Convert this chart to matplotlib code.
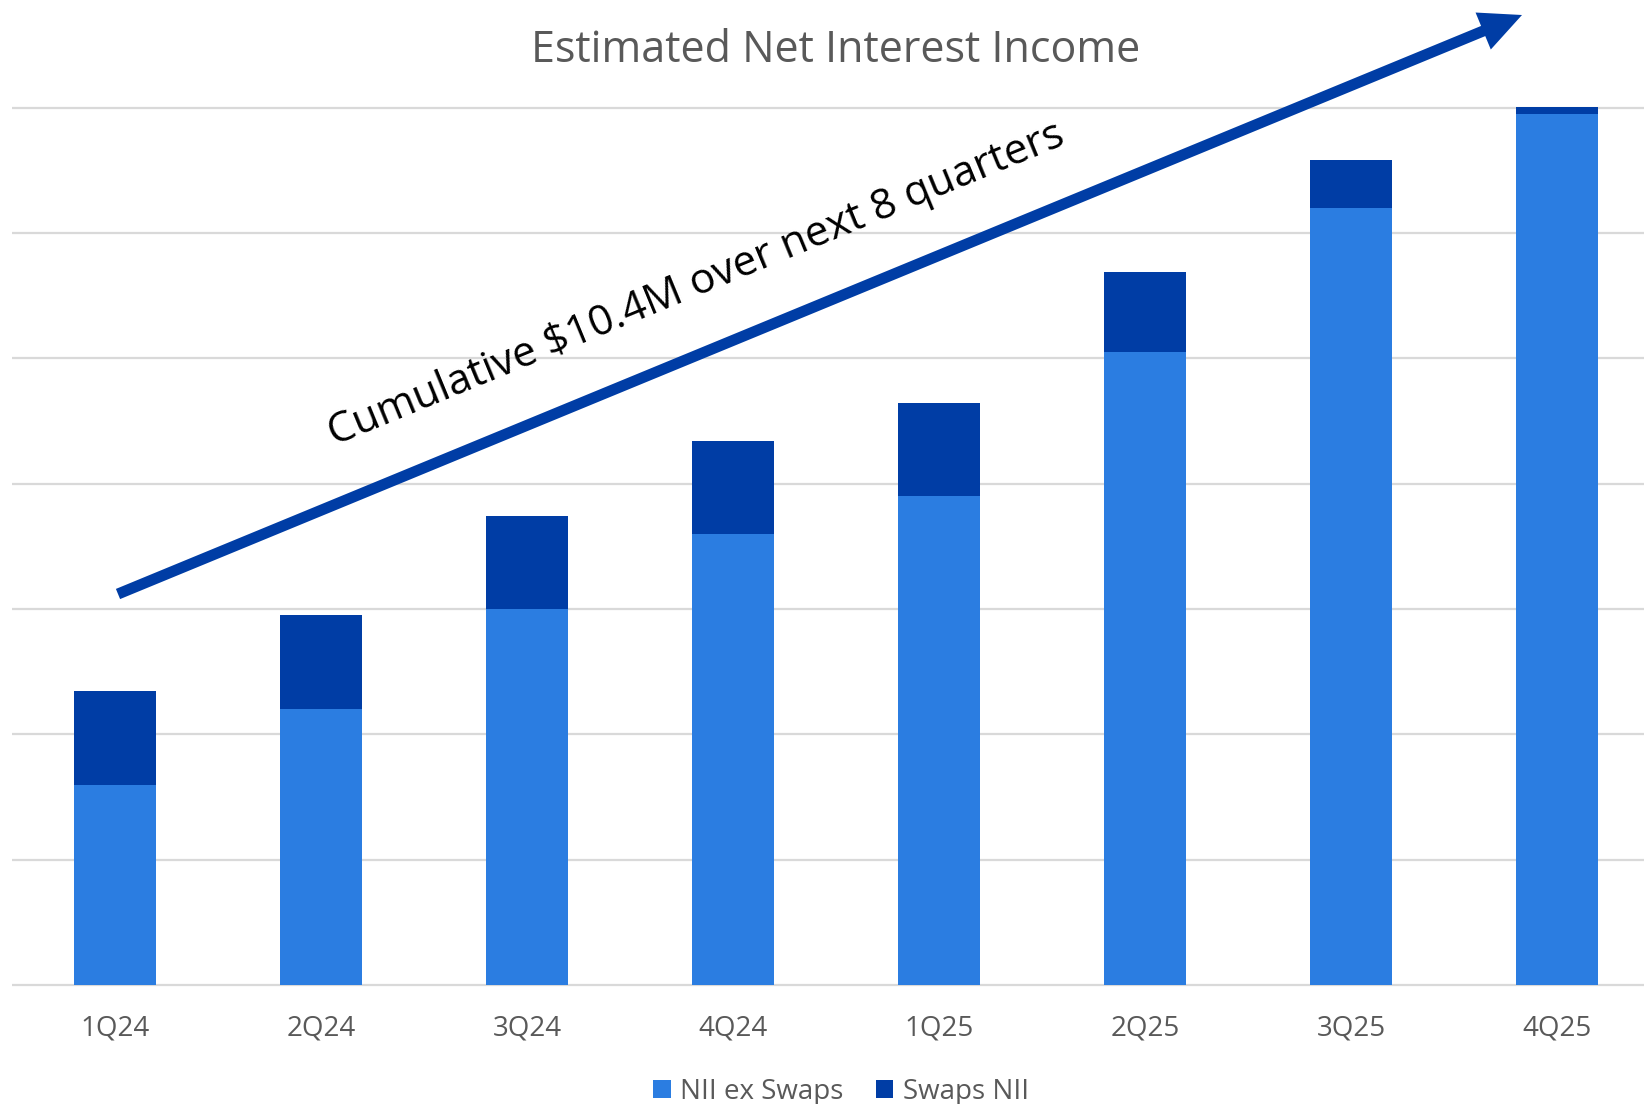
import matplotlib
matplotlib.use("Agg")
import matplotlib.pyplot as plt
from matplotlib.patches import FancyArrow

# data (one gridline = 1 unit)
quarters = ["1Q24", "2Q24", "3Q24", "4Q24", "1Q25", "2Q25", "3Q25", "4Q25"]
nii_ex_swaps = [1.60, 2.20, 3.00, 3.60, 3.90, 5.05, 6.20, 6.95]
swaps_nii = [0.75, 0.75, 0.745, 0.745, 0.745, 0.64, 0.385, 0.055]

light_blue = "#2B7DE1"
dark_blue = "#003DA5"
gray_text = "#595959"

plt.rcParams['font.family'] = ['Open Sans', 'DejaVu Sans']

fig = plt.figure(figsize=(16.44, 11.04), dpi=100)
ax = fig.add_axes([0.0073, 0.1021, 0.9927, 0.8229])

x = list(range(len(quarters)))
ax.bar(x, nii_ex_swaps, width=0.4, color=light_blue, label="NII ex Swaps", zorder=3)
ax.bar(x, swaps_nii, width=0.4, bottom=nii_ex_swaps, color=dark_blue, label="Swaps NII", zorder=3)

ax.set_xlim(-0.5, 7.422)
ax.set_ylim(-0.05, 7.2)
ax.set_yticks(range(0, 8))
ax.set_yticklabels([])
ax.yaxis.grid(True, color="#D9D9D9", linewidth=1.6, zorder=0)
ax.set_xticks(x)
ax.set_xticklabels(quarters, fontsize=20, color=gray_text)
ax.tick_params(axis='x', length=0, pad=17)
ax.tick_params(axis='y', length=0)
for s in ax.spines.values():
    s.set_visible(False)

fig.text(836 / 1644, 1 - 51 / 1104, "Estimated Net Interest Income",
         ha='center', va='center', fontsize=31, color=gray_text)

fig.legend(loc='center', bbox_to_anchor=(841 / 1644, 1 - 1092 / 1104), ncol=2,
           frameon=False, fontsize=20, labelcolor=gray_text,
           handlelength=0.62, handleheight=0.62, handletextpad=0.35, columnspacing=1.15)

# overlay in pixel coordinates for the trend arrow and its label
over = fig.add_axes([0, 0, 1, 1], facecolor='none')
over.set_xlim(0, 1644)
over.set_ylim(1104, 0)
over.axis('off')
x0, y0 = 118, 594
x1, y1 = 1522, 15
over.add_patch(FancyArrow(x0, y0, x1 - x0, y1 - y0, width=11, head_width=40, head_length=42,
                          length_includes_head=True, color=dark_blue, linewidth=0))
over.text(696, 285, "Cumulative $10.4M over next 8 quarters", rotation=22.4,
          rotation_mode='anchor', ha='center', va='center', fontsize=30.5, color='black')

fig.savefig("out.png", dpi=100)
